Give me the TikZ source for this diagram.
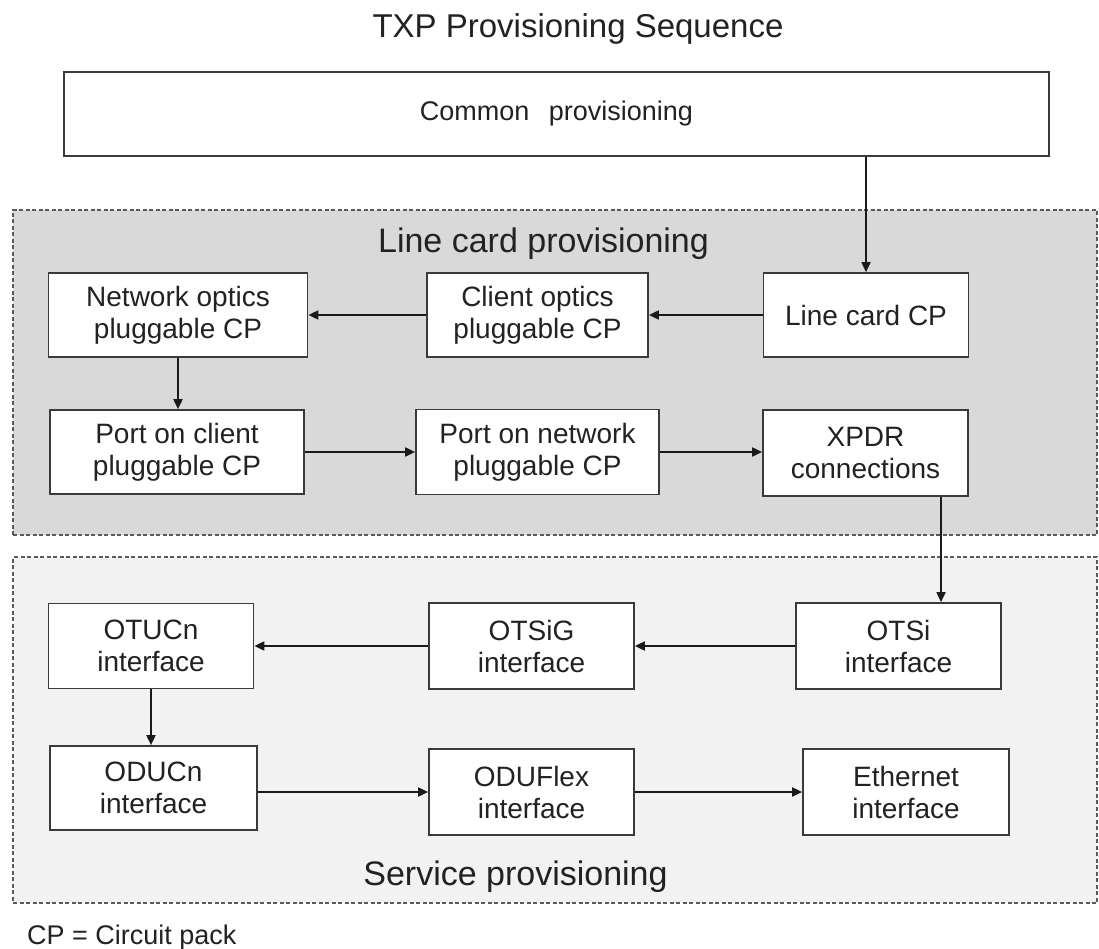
\documentclass[tikz,border=0pt]{standalone}
\usepackage{fontspec}
\setmainfont{Liberation Sans}
\usetikzlibrary{arrows.meta}
\definecolor{boxline}{HTML}{3A3A3A}
\definecolor{dashline}{HTML}{5A5A5A}
\definecolor{arrowcol}{HTML}{1A1A1A}
\definecolor{textcol}{HTML}{222222}
\definecolor{lcfill}{HTML}{D9D9D9}
\definecolor{spfill}{HTML}{F2F2F2}
\begin{document}
\begin{tikzpicture}[x=1pt,y=-1pt,
  box/.style={draw=boxline, fill=white, line width=1.7pt, inner sep=0pt, align=center,
    text=textcol, font=\fontsize{28}{32}\selectfont},
  region/.style={draw=dashline, line width=1.1pt, dash pattern=on 4pt off 2.5pt, inner sep=0pt},
  arr/.style={draw=arrowcol, line width=1.8pt, -{Triangle[length=10pt,width=9pt]}},
  sectionlabel/.style={font=\fontsize{34}{40}\selectfont, inner sep=0pt, anchor=base, text=textcol},
]
\fill[white] (0,0) rectangle (1099,949);
\useasboundingbox (0,0) rectangle (1099,949);

% regions
\node[region, fill=lcfill, minimum width=1084pt, minimum height=325pt] (lcreg) at (555,372.5) {};
\node[region, fill=spfill, minimum width=1084pt, minimum height=346pt] (spreg) at (555,730) {};

% title and labels
\node[inner sep=0pt, anchor=base, text=textcol, font=\fontsize{33}{40}\selectfont] (title) at (578,38) {TXP Provisioning Sequence};
\node[sectionlabel] (lclabel) at (543.5,253) {Line card provisioning};
\node[sectionlabel] (splabel) at (515.5,885) {Service provisioning};
\node[inner sep=0pt, anchor=base west, text=textcol, font=\fontsize{27}{32}\selectfont] (note) at (27,944) {CP = Circuit pack};

% boxes
\node[box, minimum width=985pt, minimum height=84pt, font=\fontsize{27}{32}\selectfont] (common) at (556.5,114) {Common\hspace{12pt} provisioning};

\node[box, minimum width=259pt, minimum height=84pt] (net) at (178,315) {Network optics\\pluggable CP};
\node[box, minimum width=221pt, minimum height=84pt] (client) at (537.5,315) {Client optics\\pluggable CP};
\node[box, minimum width=205pt, minimum height=84pt] (lc) at (866,315) {Line card CP};

\node[box, minimum width=254pt, minimum height=84pt] (portc) at (177,452) {Port on client\\pluggable CP};
\node[box, minimum width=243pt, minimum height=85pt] (portn) at (537.5,452) {Port on network\\pluggable CP};
\node[box, minimum width=205pt, minimum height=86pt] (xpdr) at (865.5,453) {XPDR\\connections};

\node[box, minimum width=205pt, minimum height=85pt] (otucn) at (151,646) {OTUCn\\interface};
\node[box, minimum width=205pt, minimum height=86pt] (otsig) at (531.5,646) {OTSiG\\interface};
\node[box, minimum width=205pt, minimum height=86pt] (otsi) at (898.5,646) {OTSi\\interface};

\node[box, minimum width=207pt, minimum height=84pt] (oducn) at (153.5,788) {ODUCn\\interface};
\node[box, minimum width=205pt, minimum height=86pt] (oduflex) at (531.5,792) {ODUFlex\\interface};
\node[box, minimum width=206pt, minimum height=86pt] (eth) at (906,792) {Ethernet\\interface};

% connectors
\coordinate (drop) at (941,0);
\draw[arr] (common.south -| lc.north) -- (lc.north);
\draw[arr] (lc.west) -- (client.east);
\draw[arr] (client.west) -- (net.east);
\draw[arr] (net.south) -- (net.south |- portc.north);
\draw[arr] (portc.east) -- (portc.east -| portn.west);
\draw[arr] (portn.east) -- (portn.east -| xpdr.west);
\draw[arr] (xpdr.south -| drop) -- (otsi.north -| drop);
\draw[arr] (otsi.west) -- (otsig.east);
\draw[arr] (otsig.west) -- (otucn.east);
\draw[arr] (otucn.south) -- (otucn.south |- oducn.north);
\draw[arr] (oduflex.west -| oducn.east) -- (oduflex.west);
\draw[arr] (oduflex.east) -- (eth.west);
\end{tikzpicture}
\end{document}
